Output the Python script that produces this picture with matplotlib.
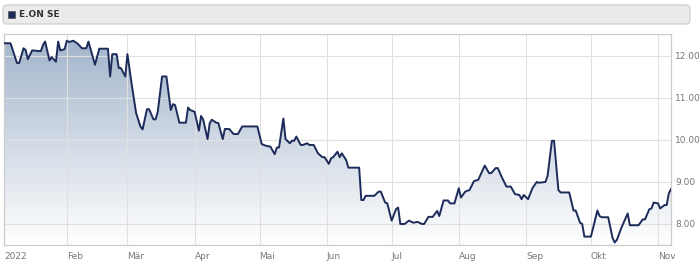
import numpy as np
import pandas as pd
import matplotlib
matplotlib.use("Agg")
import matplotlib.pyplot as plt
import matplotlib.dates as mdates
from matplotlib.patches import FancyBboxPatch, Rectangle, Polygon

# E.ON SE share price 2022
dates = [
    "2022-01-03", "2022-01-06", "2022-01-09", "2022-01-10", "2022-01-12", "2022-01-13",
    "2022-01-14", "2022-01-16", "2022-01-20", "2022-01-21", "2022-01-22", "2022-01-24",
    "2022-01-25", "2022-01-27", "2022-01-28", "2022-01-29", "2022-01-31", "2022-02-01",
    "2022-02-02", "2022-02-04", "2022-02-06", "2022-02-08", "2022-02-10", "2022-02-11",
    "2022-02-14", "2022-02-16", "2022-02-20", "2022-02-21", "2022-02-22", "2022-02-24",
    "2022-02-25", "2022-02-26", "2022-02-28", "2022-03-01", "2022-03-03", "2022-03-05",
    "2022-03-07", "2022-03-08", "2022-03-10", "2022-03-11", "2022-03-13", "2022-03-14",
    "2022-03-15", "2022-03-17", "2022-03-19", "2022-03-21", "2022-03-22", "2022-03-23",
    "2022-03-25", "2022-03-28", "2022-03-29", "2022-03-30", "2022-04-01", "2022-04-03",
    "2022-04-04", "2022-04-05", "2022-04-07", "2022-04-08", "2022-04-09", "2022-04-11",
    "2022-04-12", "2022-04-14", "2022-04-15", "2022-04-17", "2022-04-19", "2022-04-21",
    "2022-04-23", "2022-04-30", "2022-05-02", "2022-05-04", "2022-05-06", "2022-05-08",
    "2022-05-09", "2022-05-10", "2022-05-12", "2022-05-13", "2022-05-15", "2022-05-16",
    "2022-05-17", "2022-05-18", "2022-05-20", "2022-05-21", "2022-05-23", "2022-05-24",
    "2022-05-26", "2022-05-28", "2022-05-30", "2022-05-31", "2022-06-02", "2022-06-03",
    "2022-06-04", "2022-06-06", "2022-06-07", "2022-06-08", "2022-06-10", "2022-06-11",
    "2022-06-16", "2022-06-17", "2022-06-18", "2022-06-19", "2022-06-23", "2022-06-25",
    "2022-06-26", "2022-06-28", "2022-06-29", "2022-07-01", "2022-07-03", "2022-07-04",
    "2022-07-05", "2022-07-07", "2022-07-09", "2022-07-11", "2022-07-13", "2022-07-15",
    "2022-07-16", "2022-07-18", "2022-07-20", "2022-07-22", "2022-07-23", "2022-07-25",
    "2022-07-27", "2022-07-28", "2022-07-30", "2022-08-01", "2022-08-02", "2022-08-04",
    "2022-08-06", "2022-08-08", "2022-08-10", "2022-08-13", "2022-08-15", "2022-08-16",
    "2022-08-18", "2022-08-19", "2022-08-21", "2022-08-23", "2022-08-25", "2022-08-27",
    "2022-08-29", "2022-08-30", "2022-08-31", "2022-09-02", "2022-09-04", "2022-09-06",
    "2022-09-07", "2022-09-10", "2022-09-11", "2022-09-13", "2022-09-14", "2022-09-16",
    "2022-09-17", "2022-09-21", "2022-09-23", "2022-09-24", "2022-09-26", "2022-09-27",
    "2022-09-28", "2022-10-01", "2022-10-02", "2022-10-04", "2022-10-05", "2022-10-06",
    "2022-10-09", "2022-10-11", "2022-10-12", "2022-10-13", "2022-10-15", "2022-10-18",
    "2022-10-19", "2022-10-23", "2022-10-25", "2022-10-26", "2022-10-28", "2022-10-29",
    "2022-10-30", "2022-11-01", "2022-11-02", "2022-11-04", "2022-11-05", "2022-11-06",
    "2022-11-07",
]
prices = [
    12.30, 12.30, 11.83, 11.83, 12.18, 12.14, 11.92, 12.13, 12.11, 12.26, 12.34, 11.89,
    11.97, 11.86, 12.34, 12.13, 12.16, 12.36, 12.33, 12.36, 12.29, 12.18, 12.18, 12.34,
    11.79, 12.17, 12.17, 11.51, 12.04, 12.04, 11.71, 11.71, 11.51, 12.04, 11.31, 10.64,
    10.32, 10.25, 10.73, 10.73, 10.49, 10.49, 10.67, 11.51, 11.51, 10.71, 10.85, 10.83,
    10.41, 10.41, 10.77, 10.71, 10.67, 10.22, 10.57, 10.48, 10.02, 10.40, 10.48, 10.41,
    10.40, 10.02, 10.26, 10.26, 10.14, 10.14, 10.32, 10.32, 9.90, 9.86, 9.84, 9.66,
    9.82, 9.82, 10.51, 10.02, 9.92, 9.98, 9.98, 10.08, 9.88, 9.88, 9.92, 9.88,
    9.88, 9.68, 9.59, 9.59, 9.43, 9.56, 9.59, 9.72, 9.59, 9.68, 9.52, 9.34,
    9.34, 8.57, 8.57, 8.67, 8.67, 8.77, 8.77, 8.51, 8.49, 8.08, 8.35, 8.39,
    8.00, 8.00, 8.08, 8.03, 8.05, 8.00, 8.00, 8.17, 8.17, 8.31, 8.19, 8.56,
    8.56, 8.49, 8.49, 8.85, 8.63, 8.77, 8.81, 9.02, 9.05, 9.39, 9.21, 9.21,
    9.33, 9.33, 9.10, 8.89, 8.89, 8.71, 8.69, 8.59, 8.69, 8.59, 8.85, 9.00,
    8.98, 9.00, 9.14, 9.98, 9.98, 8.81, 8.75, 8.75, 8.32, 8.32, 8.03, 8.00,
    7.70, 7.70, 7.90, 8.32, 8.19, 8.16, 8.16, 7.67, 7.56, 7.62, 7.90, 8.25,
    7.97, 7.97, 8.11, 8.11, 8.35, 8.37, 8.51, 8.49, 8.37, 8.45, 8.45, 8.73,
    8.83,
]
month_ticks = ["2022-01-03", "2022-02-01", "2022-03-01", "2022-04-01", "2022-05-01", "2022-06-01",
               "2022-07-01", "2022-08-01", "2022-09-01", "2022-10-01", "2022-11-01"]
month_labels = ["2022", "Feb", "Mär", "Apr", "Mai", "Jun", "Jul", "Aug", "Sep", "Okt", "Nov"]
y_ticks = [8, 9, 10, 11, 12]
y_labels = ["8.00", "9.00", "10.00", "11.00", "12.00"]

x = mdates.date2num(pd.to_datetime(dates))
xt = mdates.date2num(pd.to_datetime(month_ticks))
x0, x1 = x[0], x[-1]
ymin, ymax = 7.5, 12.52

fig = plt.figure(figsize=(7, 2.7), dpi=100)
ax = fig.add_axes([4 / 700, 25 / 270, 667 / 700, 211 / 270])

# gradient area under the line
verts = [(x0, ymin)] + list(zip(x, prices)) + [(x1, ymin)]
area = Polygon(verts, closed=True, facecolor="none", edgecolor="none")
ax.add_patch(area)
top = np.array([0.63, 0.70, 0.79])
bot = np.array([1.0, 1.0, 1.0])
t = np.linspace(0, 1, 256)[:, None]
grad = (bot * (1 - t) + top * t)[:, None, :]
im = ax.imshow(grad, extent=[x0, x1, ymin, ymax], origin="lower", aspect="auto",
               interpolation="bilinear", zorder=1)
im.set_clip_path(area)

ax.plot(x, prices, color="#1c2b5a", lw=1.4, zorder=3, solid_joinstyle="round")

ax.set_xlim(x0, x1)
ax.set_ylim(ymin, ymax)

for v in xt[1:]:
    ax.axvline(v, color="#e0e0e0", lw=0.8, zorder=2)
for v in y_ticks:
    ax.axhline(v, color="#e0e0e0", lw=0.8, zorder=2)

ax.set_xticks(xt)
ax.set_xticklabels(month_labels, ha="left")
ax.set_yticks(y_ticks)
ax.set_yticklabels(y_labels)
ax.yaxis.tick_right()
ax.tick_params(axis="both", length=0, labelsize=6.5, labelcolor="#777777")
ax.tick_params(axis="x", pad=5)
ax.tick_params(axis="y", pad=3)
for s in ax.spines.values():
    s.set_color("#cccccc")
    s.set_linewidth(0.9)

# header bar with legend
fig.patches.append(FancyBboxPatch((3, 270 - 24), 687, 19,
                                  boxstyle="round,pad=0,rounding_size=4",
                                  facecolor="#ebebeb", edgecolor="#cfcfcf", lw=0.9,
                                  transform=None, figure=fig))
fig.patches.append(Rectangle((8, 270 - 18), 7, 7, facecolor="#1c2b5a", edgecolor="#555555",
                             lw=0.5, transform=None, figure=fig))
fig.text(19 / 700, 1 - 14.5 / 270, "E.ON SE", fontsize=6.5, fontweight="bold",
         color="#333333", va="center", ha="left")

fig.savefig("out.png", dpi=100)
